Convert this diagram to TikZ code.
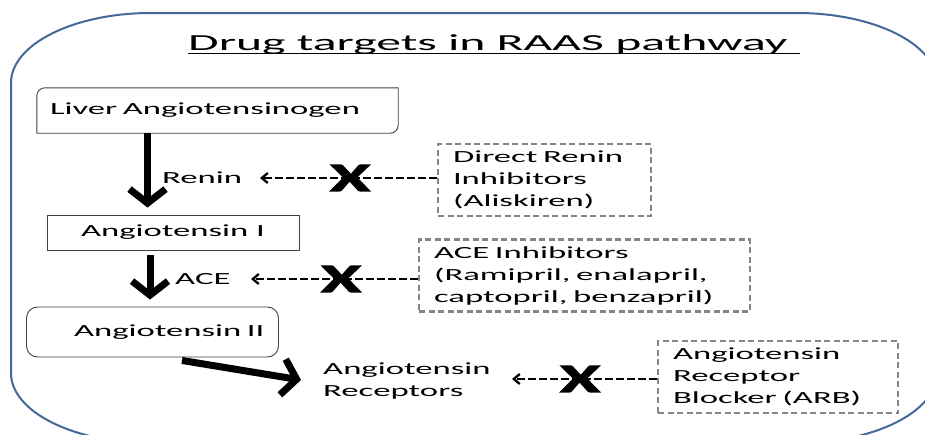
\documentclass[tikz,border=0pt]{standalone}
\usepackage{fontspec}
\setmainfont{Carlito}[FakeStretch=2.04]
\newfontfamily\titlefont{Carlito}[FakeStretch=2.16]
\newfontfamily\crossfont{Carlito}[FakeStretch=1.8, FakeBold=3]
\usetikzlibrary{arrows.meta}

\definecolor{framecol}{HTML}{44689A}
\definecolor{boxgray}{HTML}{858585}

\begin{document}
\begin{tikzpicture}[x=1pt,y=-1pt,
    every node/.style={font=\fontsize{17}{22}\selectfont},
    flowbox/.style={draw=black!75, line width=0.9pt, inner ysep=0pt},
    drugbox/.style={draw=boxgray, line width=2.4pt, dash pattern=on 6pt off 3.5pt,
      inner xsep=15pt, inner ysep=0pt, minimum height=72pt, align=left},
    bigarrow/.style={line width=7pt, -{Straight Barb[length=14pt,width=36pt]}},
    blockarrow/.style={line width=2.3pt, dash pattern=on 7.5pt off 3.5pt,
      -{Straight Barb[length=6pt,width=10pt]}},
    xmark/.style={font=\crossfont\fontsize{40}{40}\selectfont\bfseries, inner sep=0pt}]
  \useasboundingbox (0,0) rectangle (925,434);
  \clip (0,0) rectangle (925,434);
  % outer frame
  \draw[framecol, line width=2pt] (151,13) -- (797,13)
    .. controls (874.3,13) and (937,44.3) .. (937,83) -- (937,373)
    .. controls (937,411.7) and (874.3,443) .. (797,443) -- (151,443)
    .. controls (73.7,443) and (11,411.7) .. (11,373) -- (11,83)
    .. controls (11,44.3) and (73.7,13) .. (151,13) -- cycle;
  % title
  \node[anchor=base west, inner sep=0pt, font=\titlefont\fontsize{23}{28}\selectfont] (title)
    at (188,50.5) {Drug targets in RAAS pathway};
  \draw[line width=1.3pt] ([yshift=-3pt]title.base west) -- ([xshift=12pt,yshift=-3pt]title.base east);
  % pathway
  \node[inner xsep=13pt, inner ysep=0pt, text width=335pt, minimum height=45pt,
    align=left] (liver) at (217.5,110.5) {Liver Angiotensinogen};
  \draw[black!75, line width=0.9pt] (liver.west) [rounded corners=8pt] -- (liver.north west)
    -- (liver.north) [sharp corners] -- (liver.north east) -- (liver.east)
    [rounded corners=8pt] -- (liver.south east) -- (liver.south) [sharp corners]
    -- (liver.south west) -- cycle;
  \node[flowbox, minimum width=252pt, minimum height=35pt] (ang1) at (173,232.5) {Angiotensin I};
  \node[flowbox, rounded corners=11pt, inner xsep=14pt, text width=224pt, align=right,
    minimum height=50pt] (ang2) at (152.5,332) {Angiotensin II};
  \node[anchor=west, inner sep=0pt] (renin) at (162,178) {Renin};
  \node[anchor=west, inner sep=0pt] (ace) at (175,279) {ACE};
  \node[anchor=west, inner sep=0pt, align=left] (receptors) at (323,381.5) {Angiotensin\\Receptors};
  \draw[bigarrow] ([xshift=-70pt]liver.south) -- ([xshift=-25.5pt,yshift=7pt]ang1.north);
  \draw[bigarrow] ([xshift=-23pt,yshift=-5pt]ang1.south) -- ([xshift=-2.5pt,yshift=7pt]ang2.north);
  \draw[bigarrow] ([xshift=29.5pt,yshift=-3pt]ang2.south) -- ([xshift=-22pt,yshift=1.5pt]receptors.west);
  % drug targets
  \node[drugbox, text width=183pt] (direct) at (544.5,180) {Direct Renin\\Inhibitors\\(Aliskiren)};
  \node[drugbox, text width=301pt] (acei) at (584.5,275.5) {ACE Inhibitors\\(Ramipril, enalapril,\\captopril, benzapril)};
  \node[drugbox, text width=210pt] (arb) at (778,377) {Angiotensin\\Receptor\\Blocker (ARB)};
  \draw[blockarrow] (direct.west |- renin) -- node[xmark, pos=0.49] (xrenin) {X} (260,0 |- renin);
  \draw[blockarrow] (acei.west |- ace) -- node[xmark, pos=0.46] (xace) {X} (251,0 |- ace);
  \draw[blockarrow] ([yshift=-2pt]arb.west) -- node[xmark, pos=0.53] (xarb) {X} ([yshift=-2pt]arb.west -| 512,0);
\end{tikzpicture}
\end{document}
